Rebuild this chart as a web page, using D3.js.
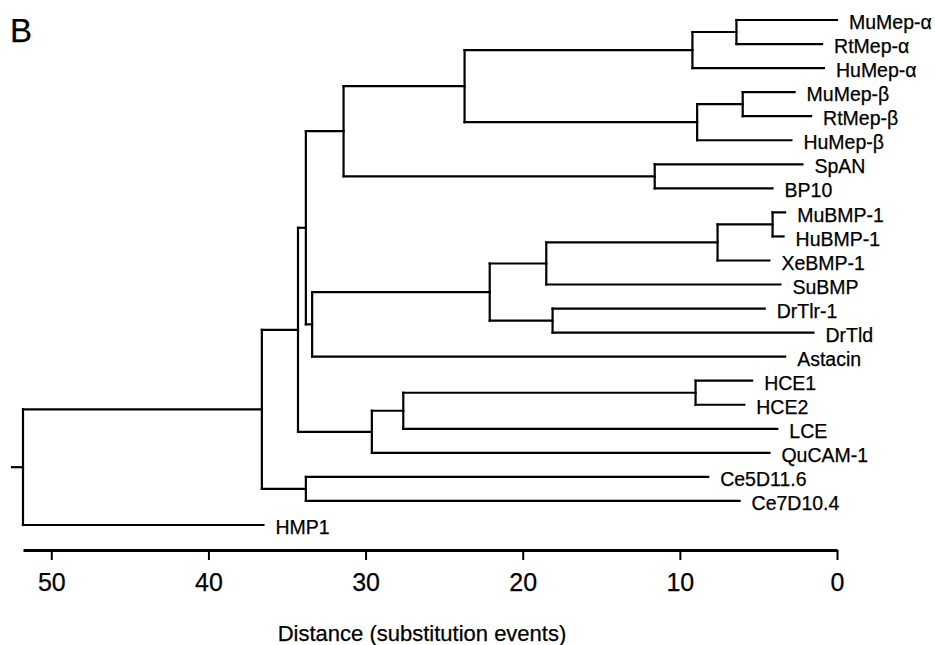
<!DOCTYPE html>
<html>
<head>
<meta charset="utf-8">
<script src="https://cdn.jsdelivr.net/npm/d3@7"></script>
<style>
  body { margin: 0; background: #fff; }
  text { font-family: "Liberation Sans", Arial, Helvetica, sans-serif; fill: #000; stroke: #000; stroke-width: 0.25px; }
</style>
</head>
<body>
<div id="chart"></div>
<script>
// leaves, top to bottom, with parent node and tip distance
const leafNames = ["MuMep-α", "RtMep-α", "HuMep-α", "MuMep-β", "RtMep-β", "HuMep-β",
  "SpAN", "BP10", "MuBMP-1", "HuBMP-1", "XeBMP-1", "SuBMP", "DrTlr-1", "DrTld",
  "Astacin", "HCE1", "HCE2", "LCE", "QuCAM-1", "Ce5D11.6", "Ce7D10.4", "HMP1"];
const leafParent = ["mrA", "mrA", "alpha", "mrB", "mrB", "beta",
  "spbp", "spbp", "mhBmp", "mhBmp", "bmp1", "bmpSu", "drtl", "drtl",
  "n4", "hce12", "hce12", "hceMid", "hceOut", "ce", "ce", "root"];
const leafDist = [0.0, 0.95, 0.83, 2.7, 1.65, 2.9,
  2.2, 4.1, 3.3, 3.4, 4.3, 3.6, 4.6, 1.5,
  3.3, 5.4, 5.9, 3.8, 4.3, 8.2, 6.2, 36.5];

// internal nodes
const nodeIds = ["root", "n1", "n2", "n3", "n4", "a", "ab", "alpha", "mrA", "beta", "mrB",
  "spbp", "bmp", "bmpSu", "bmp1", "mhBmp", "drtl", "ce", "hceOut", "hceMid", "hce12"];
const nodeParent = ["", "root", "n1", "n2", "n3", "n3", "a", "ab", "alpha", "ab", "beta",
  "a", "n4", "bmp", "bmpSu", "bmp1", "bmp", "n1", "n2", "hceOut", "hceMid"];
const nodeDist = [51.8, 36.6, 34.3, 33.8, 33.4, 31.4, 23.7, 9.2, 6.4, 8.9, 6.0,
  11.6, 22.1, 18.5, 7.6, 4.1, 18.1, 33.8, 29.6, 27.6, 9.0];

const rootStubDist = 52.5;
const tickValues = [50, 40, 30, 20, 10, 0];
const axisTitle = "Distance (substitution events)";
const panelLabel = "B";

const width = 935, height = 645;

const svg = d3.select("#chart").append("svg")
  .attr("width", width)
  .attr("height", height);

const xScale = d3.scaleLinear().domain([nodeDist[0], 0]).range([23, 837]);
const yScale = d3.scalePoint().domain(leafNames).range([20, 525]);

// build hierarchy
const rows = nodeIds.map((id, i) => ({ id: id, parent: nodeParent[i] || null, dist: nodeDist[i] }))
  .concat(leafNames.map((n, i) => ({ id: "leaf:" + n, name: n, parent: leafParent[i], dist: leafDist[i] })));
const root = d3.stratify().id(d => d.id).parentId(d => d.parent)(rows);

// keep children in leaf order
const leafIndex = new Map(leafNames.map((n, i) => [n, i]));
function firstLeaf(node) {
  return d3.min(node.leaves(), l => leafIndex.get(l.data.name));
}
root.each(n => { if (n.children) n.children.sort((a, b) => firstLeaf(a) - firstLeaf(b)); });

root.eachAfter(n => {
  n.px = xScale(n.data.dist);
  if (!n.children) n.py = yScale(n.data.name);
  else n.py = (n.children[0].py + n.children[n.children.length - 1].py) / 2;
});

const g = svg.append("g")
  .attr("fill", "none")
  .attr("stroke", "#000")
  .attr("stroke-width", 2.2)
  .attr("stroke-linecap", "square");

// horizontal branches
g.selectAll("line.h")
  .data(root.descendants().filter(n => n.parent))
  .join("line")
  .attr("class", "h")
  .attr("x1", d => d.parent.px)
  .attr("x2", d => d.px)
  .attr("y1", d => d.py)
  .attr("y2", d => d.py);

// vertical connectors
g.selectAll("line.v")
  .data(root.descendants().filter(n => n.children))
  .join("line")
  .attr("class", "v")
  .attr("x1", d => d.px)
  .attr("x2", d => d.px)
  .attr("y1", d => d.children[0].py)
  .attr("y2", d => d.children[d.children.length - 1].py);

// root stub
g.append("line")
  .attr("x1", xScale(rootStubDist))
  .attr("x2", root.px)
  .attr("y1", root.py)
  .attr("y2", root.py);

// leaf labels
svg.append("g")
  .selectAll("text")
  .data(root.leaves())
  .join("text")
  .attr("x", d => d.px + 12)
  .attr("y", d => d.py)
  .attr("dy", "0.47em")
  .style("font-size", "19.5px")
  .text(d => d.data.name);

// axis
const axis = svg.append("g")
  .attr("class", "x-axis")
  .attr("transform", "translate(0,550)")
  .call(d3.axisBottom(xScale).tickValues(tickValues).tickSize(10).tickSizeOuter(0).tickPadding(13));
axis.select(".domain").attr("stroke", "#000").attr("stroke-width", 3);
axis.selectAll(".tick line").attr("stroke", "#000").attr("stroke-width", 2);
axis.selectAll(".tick text")
  .attr("fill", "#000")
  .style("font-size", "25px")
  .style("font-family", "'Liberation Sans', Arial, sans-serif");

svg.append("text")
  .attr("x", 422)
  .attr("y", 641)
  .attr("text-anchor", "middle")
  .style("font-size", "22px")
  .text(axisTitle);

svg.append("text")
  .attr("x", 10)
  .attr("y", 42)
  .style("font-size", "33px")
  .text(panelLabel);
</script>
</body>
</html>
